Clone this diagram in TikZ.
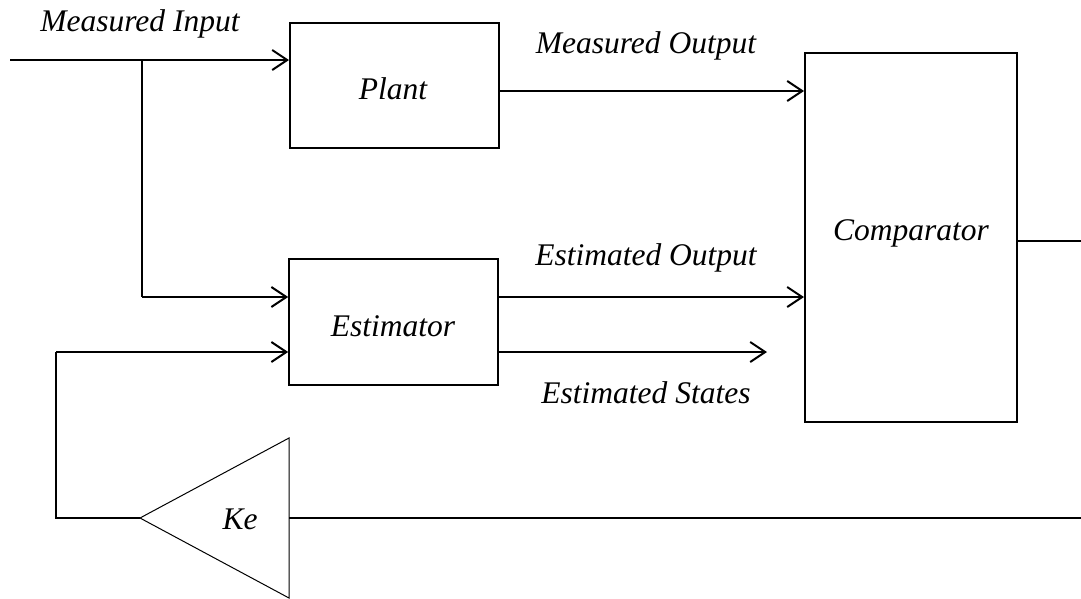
\documentclass[tikz,border=0pt]{standalone}
\usepackage{fontspec}
\setmainfont{Liberation Serif}
\usetikzlibrary{arrows.meta}
\begin{document}
\begin{tikzpicture}[x=1pt,y=-1pt,
  blockbox/.style={draw,line width=2pt,inner sep=0pt,minimum width=#1},
  lbl/.style={anchor=base,inner sep=0pt,font=\fontsize{31.5}{36}\selectfont\itshape},
  wire/.style={line width=2pt},
  thinwire/.style={line width=1.4pt},
  arr/.style={line width=2pt,-{Straight Barb[length=15pt,width=20pt]}},
]
\useasboundingbox (0,0) rectangle (1081,598);
% blocks
\node[blockbox=209pt,minimum height=125pt] (plant) at (394.5,85.5) {};
\node[blockbox=209pt,minimum height=126pt,line width=1.6pt] (est) at (393.5,322) {};
\node[blockbox=212pt,minimum height=369pt] (comp) at (911,237.5) {};
% gain triangle
\coordinate (ketip) at (140,518);
\coordinate (ketop) at (289,438);
\coordinate (kebot) at (289,598);
\coordinate (kein) at (289,518);
\draw[line width=1pt,line join=miter] (ketop) -- (ketip) -- (kebot) -- cycle;
% labels
\node[lbl] (lin) at (140,31) {Measured Input};
\node[lbl] (lplant) at (393,99) {Plant};
\node[lbl] (lmo) at (646,53) {Measured Output};
\node[lbl] (leo) at (646,265) {Estimated Output};
\node[lbl] (lest) at (393,336) {Estimator};
\node[lbl] (les) at (646,403) {Estimated States};
\node[lbl] (lcomp) at (911,240) {Comparator};
\node[lbl] (lke) at (240,529) {Ke};
% coordinates
\coordinate (in0) at (10,60);
\coordinate (br) at (142,60);
\coordinate (br2) at (142,297);
\coordinate (fbu) at (56,352);
\coordinate (fbc) at (56,518);
\coordinate (mo) at (499,91);
\coordinate (eo) at (498,297);
\coordinate (es) at (498,352);
\coordinate (esend) at (767,352);
\coordinate (cout) at (1017,241);
\coordinate (coutend) at (1081,241);
\coordinate (keend) at (1081,518);
% connectors
\draw[arr] (in0) -- (in0 -| plant.west);
\draw[thinwire] (br) -- (br2);
\draw[arr] (br2) -- (br2 -| est.west);
\draw[arr] (mo) -- (mo -| comp.west);
\draw[arr] (eo) -- (eo -| comp.west);
\draw[arr] (es) -- (esend);
\draw[wire] (cout) -- (coutend);
\draw[wire] (keend) -- (kein);
\draw[wire,line join=miter] (ketip) -- (fbc) -- (fbu);
\draw[arr] (fbu) -- (fbu -| est.west);
\end{tikzpicture}
\end{document}
